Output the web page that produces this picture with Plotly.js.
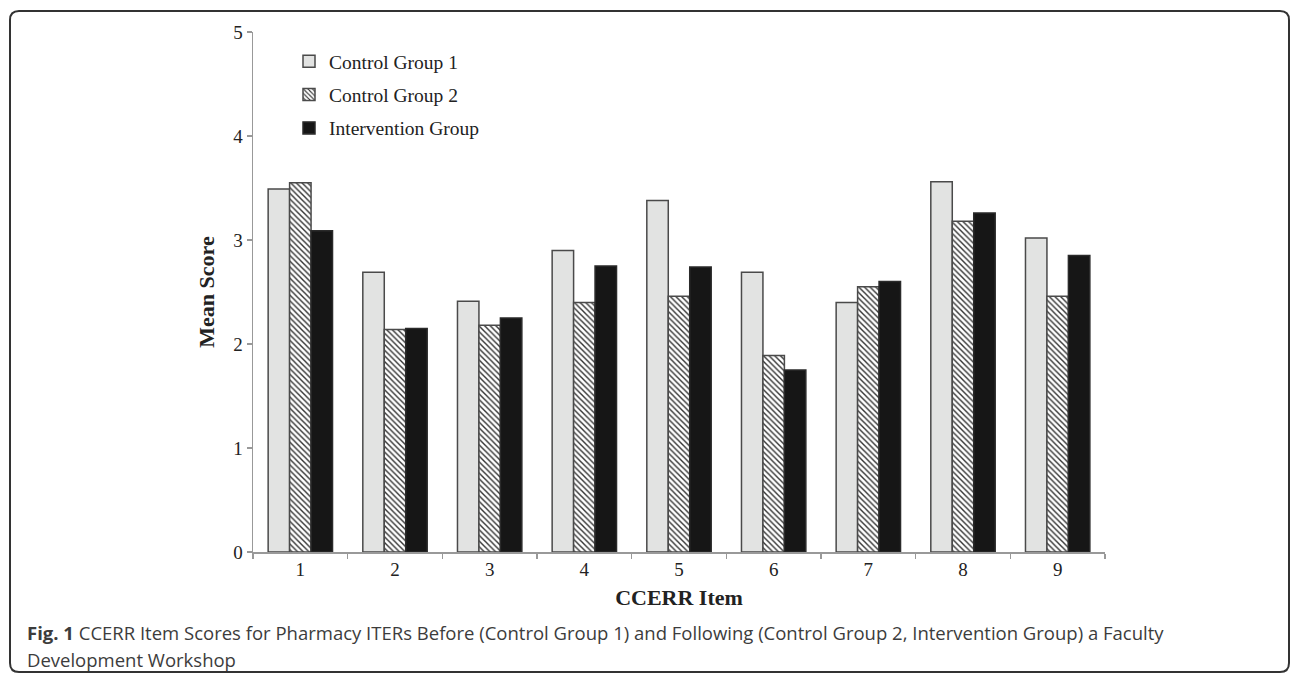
<!DOCTYPE html>
<html><head><meta charset="utf-8">
<script src="https://cdn.plot.ly/plotly-3.0.1.min.js"></script>
<style>html,body{margin:0;padding:0;background:#fff}#chart{width:1292px;height:674px}</style>
</head><body><div id="chart"></div>
<script>
const items = ['1','2','3','4','5','6','7','8','9'];
const controlGroup1 = [3.49, 2.69, 2.41, 2.90, 3.38, 2.69, 2.40, 3.56, 3.02];
const controlGroup2 = [3.55, 2.14, 2.18, 2.40, 2.46, 1.89, 2.55, 3.18, 2.46];
const interventionGroup = [3.09, 2.15, 2.25, 2.75, 2.74, 1.75, 2.60, 3.26, 2.85];
const seriesNames = ['Control Group 1', 'Control Group 2', 'Intervention Group'];
const yTicks = [0, 1, 2, 3, 4, 5];
const xTitle = 'CCERR Item';
const yTitle = 'Mean Score';
const captionLine1 = '<b>Fig. 1</b> CCERR Item Scores for Pharmacy ITERs Before (Control Group 1) and Following (Control Group 2, Intervention Group) a Faculty';
const captionLine2 = 'Development Workshop';

// plot area geometry (pixels)
const W = 1292, H = 674;
const ML = 253, MR = 187, MT = 32, MB = 122;
const PW = W - ML - MR, PH = H - MT - MB;
const px = x => (x - ML) / PW;
const py = y => (H - MB - y) / PH;

const serif = 'Liberation Serif, Times New Roman, serif';
const outline = {color: '#4a4a4a', width: 1.5};

const traces = [
  {type: 'bar', name: seriesNames[0], x: items, y: controlGroup1, legendgroup: 'a',
   marker: {color: '#e2e3e2', line: outline}},
  {type: 'bar', name: seriesNames[1], x: items, y: controlGroup2, legendgroup: 'b',
   marker: {color: '#ffffff', line: outline,
            pattern: {shape: '\\', size: 4, solidity: 0.35, fgcolor: '#333333', bgcolor: '#ffffff'}}},
  {type: 'bar', name: seriesNames[2], x: items, y: interventionGroup, legendgroup: 'c',
   marker: {color: '#161616', line: {color: '#2a2a2a', width: 1.5}}}
];

// rounded frame path
function framePath(x0, y0, x1, y1, r) {
  const X = px, Y = py;
  return 'M' + X(x0 + r) + ',' + Y(y0) +
    ' L' + X(x1 - r) + ',' + Y(y0) +
    ' Q' + X(x1) + ',' + Y(y0) + ' ' + X(x1) + ',' + Y(y0 + r) +
    ' L' + X(x1) + ',' + Y(y1 - r) +
    ' Q' + X(x1) + ',' + Y(y1) + ' ' + X(x1 - r) + ',' + Y(y1) +
    ' L' + X(x0 + r) + ',' + Y(y1) +
    ' Q' + X(x0) + ',' + Y(y1) + ' ' + X(x0) + ',' + Y(y1 - r) +
    ' L' + X(x0) + ',' + Y(y0 + r) +
    ' Q' + X(x0) + ',' + Y(y0) + ' ' + X(x0 + r) + ',' + Y(y0) + ' Z';
}

const layout = {
  width: W, height: H,
  margin: {l: ML, r: MR, t: MT, b: MB, pad: 0},
  paper_bgcolor: '#ffffff', plot_bgcolor: '#ffffff',
  font: {family: serif, size: 19, color: '#222222'},
  barmode: 'group', bargap: 0.32, bargroupgap: 0,
  showlegend: true,
  legend: {x: px(289), xanchor: 'left', y: py(42), yanchor: 'top',
           bgcolor: 'rgba(0,0,0,0)', font: {family: serif, size: 19.5, color: '#222222'},
           tracegroupgap: 5, itemwidth: 30},
  xaxis: {type: 'category', tickson: 'boundaries', ticks: 'outside', ticklen: 5,
          tickcolor: '#999999', tickwidth: 1.5, showline: true, linecolor: '#999999', linewidth: 1.5,
          showgrid: false, zeroline: false, tickfont: {family: serif, size: 19, color: '#222222'},
          title: {text: '<b>' + xTitle + '</b>', font: {family: serif, size: 22, color: '#222222'}, standoff: 10}},
  yaxis: {range: [0, 5], tickvals: yTicks, ticks: 'outside', ticklen: 5, tickcolor: '#999999', tickwidth: 1.5,
          showline: true, linecolor: '#999999', linewidth: 1.5, showgrid: false, zeroline: false,
          tickfont: {family: serif, size: 19, color: '#222222'},
          title: {text: '<b>' + yTitle + '</b>', font: {family: serif, size: 22, color: '#222222'}, standoff: 12}},
  shapes: [
    {type: 'path', xref: 'paper', yref: 'paper', path: framePath(10, 11, 1289, 672, 9),
     line: {color: '#333333', width: 2}, fillcolor: 'rgba(0,0,0,0)', layer: 'below'}
  ],
  annotations: [
    {xref: 'paper', yref: 'paper', x: px(25), y: py(632), xanchor: 'left', yanchor: 'middle',
     text: captionLine1, showarrow: false, align: 'left',
     font: {family: 'Open Sans, Noto Sans, sans-serif', size: 18.5, color: '#3c3c3c'}},
    {xref: 'paper', yref: 'paper', x: px(25), y: py(659), xanchor: 'left', yanchor: 'middle',
     text: captionLine2, showarrow: false, align: 'left',
     font: {family: 'Open Sans, Noto Sans, sans-serif', size: 18.5, color: '#3c3c3c'}}
  ]
};

Plotly.newPlot('chart', traces, layout, {displayModeBar: false, staticPlot: true});
</script>
</body></html>
